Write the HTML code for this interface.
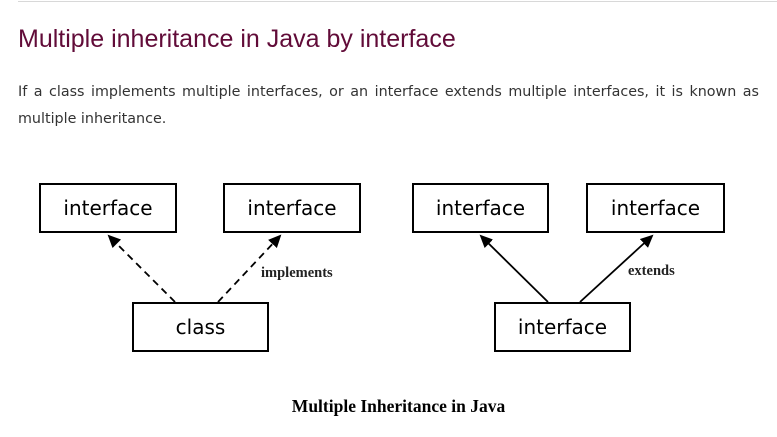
<!DOCTYPE html>
<html><head><style>
body{margin:0;width:777px;height:437px;background:#fff;position:relative;overflow:hidden;font-family:"Liberation Sans",sans-serif}
.hr{position:absolute;left:18px;right:0;top:1px;height:1px;background:#d8d8d8}
h1{position:absolute;left:18px;top:25px;margin:0;font-weight:normal;font-size:25px;color:#610b38;white-space:nowrap}
p{position:absolute;left:18px;width:741px;top:79px;margin:0;line-height:27px;color:#333;text-align:justify;font-family:"DejaVu Sans",sans-serif;font-size:14.3px}
.b{position:absolute;border:2px solid #000;box-sizing:border-box;display:flex;align-items:center;justify-content:center;font-size:20px;font-family:"DejaVu Sans",sans-serif;background:#fff}
.l{position:absolute;font-family:"Liberation Serif",serif;font-size:14.5px;font-weight:bold;color:#222}
.cap{position:absolute;left:0;width:797px;text-align:center;top:396px;font-family:"Liberation Serif",serif;font-weight:bold;font-size:17.5px}
</style></head><body>
<div class="hr"></div>
<h1>Multiple inheritance in Java by interface</h1>
<p>If a class implements multiple interfaces, or an interface extends multiple interfaces, it is known as multiple inheritance.</p>
<svg width="777" height="437" style="position:absolute;left:0;top:0">
<defs><marker id="a" markerWidth="14" markerHeight="14" refX="11" refY="6" orient="auto" markerUnits="userSpaceOnUse"><path d="M0,0 L13,6 L0,12 z"/></marker></defs>
<g stroke="#000" stroke-width="1.8">
<line x1="175" y1="302" x2="109" y2="236" stroke-dasharray="7,5" marker-end="url(#a)"/>
<line x1="218" y1="302" x2="280" y2="236" stroke-dasharray="7,5" marker-end="url(#a)"/>
<line x1="548" y1="302" x2="481" y2="236" marker-end="url(#a)"/>
<line x1="580" y1="302" x2="652" y2="236" marker-end="url(#a)"/>
</g></svg>
<div class="b" style="left:39px;top:183px;width:138px;height:50px">interface</div>
<div class="b" style="left:223px;top:183px;width:138px;height:50px">interface</div>
<div class="b" style="left:132px;top:302px;width:137px;height:50px">class</div>
<div class="b" style="left:412px;top:183px;width:137px;height:50px">interface</div>
<div class="b" style="left:586px;top:183px;width:139px;height:50px">interface</div>
<div class="b" style="left:494px;top:302px;width:137px;height:50px">interface</div>
<div class="l" style="left:261px;top:265px">implements</div>
<div class="l" style="left:628px;top:263px">extends</div>
<div class="cap">Multiple Inheritance in Java</div>
</body></html>
